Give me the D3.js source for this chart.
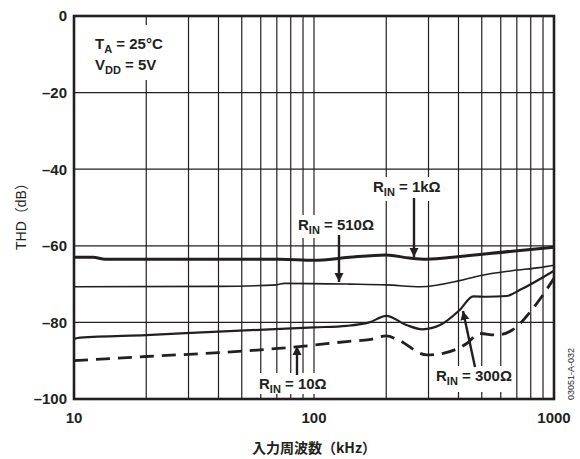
<!DOCTYPE html>
<html>
<head>
<meta charset="utf-8">
<script src="https://cdn.jsdelivr.net/npm/d3@7"></script>
<style>
  body { margin: 0; background: #fff; }
  svg { display: block; font-family: 'Liberation Sans', Arial, 'Noto Sans CJK JP', sans-serif; }
</style>
</head>
<body>
<div id="chart"></div>
<script>
'use strict'

// THD vs input frequency, one array of [kHz, dB] per source resistance
var rin1k = [[10, -63.0], [12, -63.0], [13.5, -63.5], [30, -63.5], [72, -63.5], [100, -63.8],
  [140, -63.0], [200, -62.4], [250, -63.2], [295, -63.5], [404, -62.8], [670, -61.4], [1000, -60.4]]
var rin510 = [[10, -70.7], [40, -70.6], [70, -70.2], [75, -69.8], [140, -70.0], [200, -70.2],
  [278, -70.7], [404, -69.1], [490, -67.8], [670, -66.5], [870, -65.7], [1000, -65.1]]
var rin300 = [[10, -84.3], [10.6, -84.0], [20, -83.3], [40, -82.4], [100, -81.3], [137, -80.9],
  [170, -80.0], [200, -78.3], [243, -80.7], [283, -81.8], [335, -80.7], [404, -76.8], [461, -73.2],
  [524, -73.3], [635, -73.1], [722, -71.5], [1000, -66.5]]
var rin10 = [[10, -90.0], [20, -88.9], [40, -87.9], [91, -86.2], [137, -85.0], [170, -84.5],
  [200, -83.5], [225, -84.6], [295, -88.5], [345, -88.1], [433, -85.5], [490, -82.9], [575, -83.3],
  [670, -82.0], [818, -76.3], [1000, -68.5]]

var xTicks = [10, 100, 1000]
var yTicks = [0, -20, -40, -60, -80, -100]
var xGrid = [20, 30, 40, 50, 60, 70, 80, 90, 100, 200, 300, 400, 500, 600, 700, 800, 900]

var W = 580
var H = 459
var margin = { top: 16, right: 26, bottom: 60, left: 74 }
var iw = W - margin.left - margin.right
var ih = H - margin.top - margin.bottom
var ink = '#231f20'

var x = d3.scaleLog().domain([10, 1000]).range([0, iw])
var y = d3.scaleLinear().domain([-100, 0]).range([ih, 0])

var svg = d3.select('#chart').append('svg')
  .attr('width', W)
  .attr('height', H)

var g = svg.append('g')
  .attr('transform', 'translate(' + margin.left + ',' + margin.top + ')')

// grid
g.append('g').selectAll('line.vx')
  .data(xGrid)
  .enter().append('line')
  .attr('x1', function (d) { return x(d) })
  .attr('x2', function (d) { return x(d) })
  .attr('y1', 0)
  .attr('y2', ih)
  .style('stroke', ink)
  .style('stroke-width', '1.2px')

g.append('g').selectAll('line.hy')
  .data(yTicks)
  .enter().append('line')
  .attr('x1', 0)
  .attr('x2', iw)
  .attr('y1', function (d) { return y(d) })
  .attr('y2', function (d) { return y(d) })
  .style('stroke', ink)
  .style('stroke-width', '1.2px')

// white boxes behind the labels (they break the grid)
var boxes = [
  { x: 14, y: 9, w: 82, h: 55 },
  { x: 221, y: 199, w: 86, h: 23 },
  { x: 296, y: 161, w: 82, h: 24 },
  { x: 181, y: 357, w: 86, h: 21 },
  { x: 358, y: 350, w: 76, h: 26 }
]
g.append('g').selectAll('rect')
  .data(boxes)
  .enter().append('rect')
  .attr('x', function (d) { return d.x })
  .attr('y', function (d) { return d.y })
  .attr('width', function (d) { return d.w })
  .attr('height', function (d) { return d.h })
  .style('fill', '#fff')

// curves
var line = d3.line()
  .x(function (d) { return x(d[0]) })
  .y(function (d) { return y(d[1]) })
  .curve(d3.curveMonotoneX)

var series = [
  { data: rin1k, width: 3, dash: null },
  { data: rin510, width: 1.6, dash: null },
  { data: rin300, width: 2.2, dash: null },
  { data: rin10, width: 2.8, dash: '14,8' }
]
g.append('g').selectAll('path')
  .data(series)
  .enter().append('path')
  .attr('d', function (d) { return line(d.data) })
  .style('fill', 'none')
  .style('stroke', ink)
  .style('stroke-width', function (d) { return d.width + 'px' })
  .style('stroke-dasharray', function (d) { return d.dash })

// frame
g.append('rect')
  .attr('width', iw)
  .attr('height', ih)
  .style('fill', 'none')
  .style('stroke', ink)
  .style('stroke-width', '2.6px')

// tick labels
g.append('g').selectAll('text')
  .data(yTicks)
  .enter().append('text')
  .attr('x', -7)
  .attr('y', function (d) { return y(d) })
  .attr('dy', '0.36em')
  .attr('text-anchor', 'end')
  .style('font-size', '15px')
  .style('font-weight', 'bold')
  .style('fill', ink)
  .text(function (d) { return d === 0 ? '0' : '\u2013' + Math.abs(d) })

g.append('g').selectAll('text')
  .data(xTicks)
  .enter().append('text')
  .attr('x', function (d) { return x(d) })
  .attr('y', ih + 24)
  .attr('text-anchor', 'middle')
  .style('font-size', '15px')
  .style('font-weight', 'bold')
  .style('fill', ink)
  .text(function (d) { return d })

// axis titles
svg.append('text')
  .attr('x', margin.left + iw / 2)
  .attr('y', 453)
  .attr('text-anchor', 'middle')
  .style('font-family', "'Noto Sans CJK JP', sans-serif")
  .style('font-size', '14px')
  .style('font-weight', 'bold')
  .style('fill', ink)
  .text('入力周波数\uFF08kHz\uFF09')

svg.append('text')
  .attr('transform', 'translate(26,213) rotate(-90)')
  .attr('text-anchor', 'middle')
  .style('font-size', '14px')
  .style('fill', ink)
  .text('THD\uFF08dB\uFF09')

// labels with subscripts
function label (sel, px, py, main, sub, rest) {
  var t = sel.append('text')
    .attr('x', px)
    .attr('y', py)
    .style('font-size', '15px')
    .style('font-weight', 'bold')
    .style('fill', ink)
  t.append('tspan').text(main)
  t.append('tspan').attr('dy', 4).style('font-size', '11px').text(sub)
  t.append('tspan').attr('dy', -4).text(rest)
}

label(g, 21, 33, 'T', 'A', ' = 25\u00B0C')
label(g, 21, 54, 'V', 'DD', ' = 5V')
label(g, 299, 176, 'R', 'IN', ' = 1k\u03A9')
label(g, 224, 214, 'R', 'IN', ' = 510\u03A9')
label(g, 185, 373, 'R', 'IN', ' = 10\u03A9')
label(g, 362, 365, 'R', 'IN', ' = 300\u03A9')

// arrows
svg.append('defs').append('marker')
  .attr('id', 'head')
  .attr('viewBox', '0 0 10 10')
  .attr('refX', 10)
  .attr('refY', 5)
  .attr('markerUnits', 'userSpaceOnUse')
  .attr('markerWidth', 9)
  .attr('markerHeight', 14)
  .attr('orient', 'auto')
  .append('path')
  .attr('d', 'M0,0L10,5L0,10Z')
  .style('fill', ink)

var arrows = [
  { x1: 340, y1: 182, x2: 340, y2: 241 },
  { x1: 265, y1: 219, x2: 265, y2: 266 },
  { x1: 223, y1: 359, x2: 223, y2: 330 },
  { x1: 401, y1: 351, x2: 389, y2: 295 }
]
g.append('g').selectAll('line')
  .data(arrows)
  .enter().append('line')
  .attr('x1', function (d) { return d.x1 })
  .attr('y1', function (d) { return d.y1 })
  .attr('x2', function (d) { return d.x2 })
  .attr('y2', function (d) { return d.y2 })
  .attr('marker-end', 'url(#head)')
  .style('stroke', ink)
  .style('stroke-width', '2.4px')

// figure code
svg.append('text')
  .attr('transform', 'translate(574,400) rotate(-90)')
  .style('font-size', '9px')
  .style('fill', ink)
  .text('03051-A-032')
</script>
</body>
</html>
